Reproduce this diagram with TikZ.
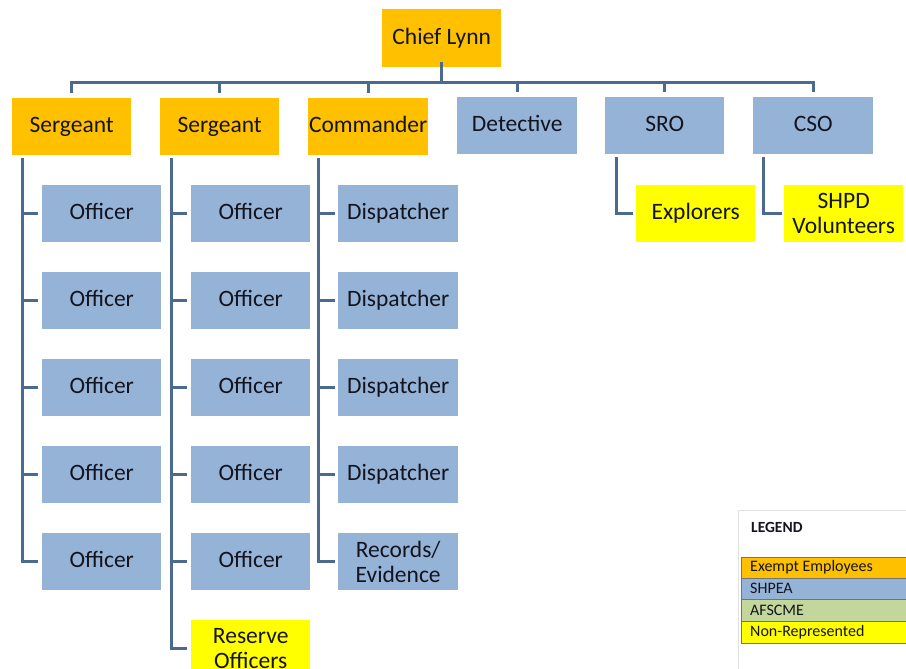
\documentclass[tikz,border=0pt]{standalone}
\usepackage{fontspec}
\setmainfont{Carlito}
\definecolor{exempt}{HTML}{FFC000}
\definecolor{shpea}{HTML}{95B3D7}
\definecolor{afscme}{HTML}{C3D69B}
\definecolor{nonrep}{HTML}{FFFF00}
\definecolor{linkc}{HTML}{4A6A8E}
\definecolor{txt}{HTML}{14141E}
\begin{document}
\begin{tikzpicture}[x=1pt,y=-1pt,
  unit/.style={anchor=north west,inner sep=0pt,minimum width=119pt,minimum height=57pt,
    text=txt,font=\fontsize{23.5}{25}\selectfont},
  oneline/.style={text height=17pt,text depth=5pt},
  twoline/.style={align=center},
  exemptbox/.style={unit,oneline,fill=exempt},
  shpeabox/.style={unit,oneline,fill=shpea},
  shpeatwo/.style={unit,twoline,fill=shpea},
  nonrepbox/.style={unit,oneline,fill=nonrep},
  nonreptwo/.style={unit,twoline,fill=nonrep},
  conn/.style={draw=linkc,line width=3pt},
  legendrow/.style={draw=black!55,line width=0.6pt},
  legendtext/.style={anchor=west,inner sep=0pt,text=txt,font=\fontsize{16}{18}\selectfont}]
\useasboundingbox (0,0) rectangle (906,669);
\clip (0,0) rectangle (906,669);

% top of the chart
\node[exemptbox,minimum height=58pt] (chief) at (382,9) {Chief Lynn};
\node[exemptbox] (sg1) at (12,98) {Sergeant};
\node[exemptbox] (sg2) at (160,98) {Sergeant};
\node[exemptbox,minimum width=120pt] (cmd) at (308,98) {Commander};
\node[shpeabox,minimum width=120pt] (det) at (457,97) {Detective};
\node[shpeabox] (sro) at (605,97) {SRO};
\node[shpeabox,minimum width=120pt] (cso) at (753,97) {CSO};

% first sergeant's officers
\foreach \k/\y in {1/185,2/272,3/359,4/446,5/533}
  \node[shpeabox] (oa\k) at (42,\y) {Officer};
% second sergeant's officers
\foreach \k/\y in {1/185,2/272,3/359,4/446,5/533}
  \node[shpeabox] (ob\k) at (191,\y) {Officer};
\node[nonreptwo] (res) at (191,620) {Reserve\\Officers};
% commander's staff
\foreach \k/\y in {1/185,2/272,3/359,4/446}
  \node[shpeabox,minimum width=120pt] (dp\k) at (338,\y) {Dispatcher};
\node[shpeatwo,minimum width=120pt] (rec) at (338,533) {Records/\\Evidence};
% volunteer groups
\node[nonrepbox] (exp) at (636,185) {Explorers};
\node[nonreptwo] (vol) at (784,185) {SHPD\\Volunteers};

% bus below the chief
\coordinate (bus) at (0,83);
\draw[conn] ([yshift=5pt]chief.south) -- (chief.south |- bus);
\draw[conn] ([yshift=5pt]sg1.north) -- (sg1.north |- bus) -- (cso.north |- bus) -- ([yshift=5pt]cso.north);
\foreach \n in {sg2,cmd,det,sro}
  \draw[conn] ([yshift=5pt]\n.north) -- (\n.north |- bus);

% column spines
\coordinate (spa) at ([xshift=10pt,yshift=-3pt]sg1.south west);
\coordinate (spb) at ([xshift=11pt,yshift=-3pt]sg2.south west);
\coordinate (spc) at ([xshift=10pt,yshift=-3pt]cmd.south west);
\draw[conn] (spa) |- ([xshift=-4pt]oa5.west);
\foreach \k in {1,...,4}
  \draw[conn] ([xshift=-4pt]oa\k.west) -- (oa\k.west -| spa);
\draw[conn] (spb) |- ([xshift=-4pt]res.west);
\foreach \k in {1,...,5}
  \draw[conn] ([xshift=-4pt]ob\k.west) -- (ob\k.west -| spb);
\draw[conn] (spc) |- ([xshift=-3pt]rec.west);
\foreach \k in {1,...,4}
  \draw[conn] ([xshift=-3pt]dp\k.west) -- (dp\k.west -| spc);
\draw[conn] ([xshift=11pt,yshift=-3pt]sro.south west) |- ([xshift=-3pt]exp.west);
\draw[conn] ([xshift=10pt,yshift=-3pt]cso.south west) |- ([xshift=-2pt]vol.west);

% legend
\draw[draw=black!12,fill=white,line width=0.8pt] (738,510) rectangle (930,690);
\node[anchor=west,inner sep=0pt,text=txt,font=\bfseries\fontsize{15.5}{18}\selectfont] (legtitle) at (751,527) {LEGEND};
\draw[legendrow,fill=exempt] (741,557) rectangle (930,578);
\draw[legendrow,fill=shpea]  (741,578) rectangle (930,599);
\draw[legendrow,fill=afscme] (741,599) rectangle (930,621);
\draw[legendrow,fill=nonrep] (741,621) rectangle (930,643);
\node[legendtext] (lg1) at (750,567.5) {Exempt Employees};
\node[legendtext] (lg2) at (750,588.5) {SHPEA};
\node[legendtext] (lg3) at (750,610) {AFSCME};
\node[legendtext] (lg4) at (750,632) {Non-Represented};
\end{tikzpicture}
\end{document}
